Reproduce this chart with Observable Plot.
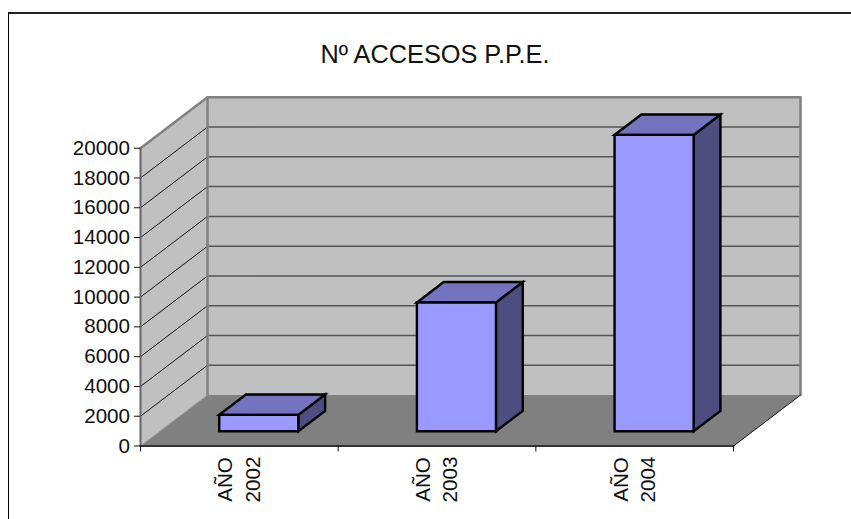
<!DOCTYPE html>
<html>
<head>
<meta charset="utf-8">
<script src="https://cdn.jsdelivr.net/npm/d3@7"></script>
<script src="https://cdn.jsdelivr.net/npm/@observablehq/plot@0.6"></script>
<style>
  html, body { margin: 0; padding: 0; background: #fff; overflow: hidden; }
  #chart { position: relative; width: 851px; height: 519px; }
  #chart svg { display: block; }
  #frame { position: absolute; left: 8px; top: 12px; right: -4px; bottom: -4px;
           border-left: 1.5px solid #000; border-top: 2px solid #222; }
</style>
</head>
<body>
<div id="chart"><div id="frame"></div></div>
<script>
const title = "Nº ACCESOS P.P.E.";
const categories = ["AÑO\n2002", "AÑO\n2003", "AÑO\n2004"];
const accesses = [1100, 8650, 19900];
const valueTicks = [0, 2000, 4000, 6000, 8000, 10000, 12000, 14000, 16000, 18000, 20000];
const categoryEdges = [0, 1, 2, 3];

// Oblique projection: depth z (0 = front, 1 = back) shifts a point along x and y, in data units.
const depthX = 0.339;
const depthY = 3420;
const barWidth = 0.4;
const barFront = 0.29;
const barBack = 0.69;

const P = (x, v, z) => ({x: x + z * depthX, y: v + z * depthY});
const poly = (pts, o) => Plot.line(pts, {x: "x", y: "y", curve: "linear-closed", strokeLinejoin: "miter", strokeMiterlimit: 4, ...o});
const seg = (pts, stroke, strokeWidth) => Plot.line(pts, {x: "x", y: "y", stroke, strokeWidth});

const maxV = 20000, n = categories.length;

const walls = [
  poly([P(0, 0, 1), P(n, 0, 1), P(n, maxV, 1), P(0, maxV, 1)], {fill: "#C0C0C0", stroke: "none"}),
  poly([P(0, 0, 0), P(0, 0, 1), P(0, maxV, 1), P(0, maxV, 0)], {fill: "#C0C0C0", stroke: "none"}),
  poly([P(0, 0, 0), P(n, 0, 0), P(n, 0, 1), P(0, 0, 1)], {fill: "#808080", stroke: "none"})
];

const grid = valueTicks.slice(1, -1).flatMap(v => [
  seg([P(0, v, 0), P(0, v, 1)], "#111", 1),
  seg([P(0, v, 1), P(n, v, 1)], "#555", 1.5)
]);

const edges = [
  seg([P(0, maxV, 0), P(0, maxV, 1), P(n, maxV, 1), P(n, 0, 1)], "#808080", 2.5),
  seg([P(0, maxV, 1), P(0, 0, 1)], "#808080", 2.5),
  seg([P(0, 0, 0), P(0, 0, 1)], "#999", 1),
  seg([P(n, 0, 0), P(n, 0, 1)], "#111", 1),
  seg([P(0, 0, 0), P(0, maxV, 0)], "#666", 2),
  seg([P(0, 0, 0), P(n, 0, 0)], "#333", 2)
];

const bars = accesses.flatMap((v, i) => {
  const a = i + 0.5 - barWidth / 2, b = i + 0.5 + barWidth / 2;
  const style = {stroke: "#000", strokeWidth: 2.4};
  return [
    poly([P(b, 0, barFront), P(b, 0, barBack), P(b, v, barBack), P(b, v, barFront)], {fill: "#4D4D80", ...style}),
    poly([P(a, v, barFront), P(b, v, barFront), P(b, v, barBack), P(a, v, barBack)], {fill: "#7373BF", ...style}),
    poly([P(a, 0, barFront), P(b, 0, barFront), P(b, v, barFront), P(a, v, barFront)], {fill: "#9999FF", ...style})
  ];
});

const plot = Plot.plot({
  width: 851,
  height: 519,
  marginLeft: 140,
  marginRight: 118,
  marginTop: 147.7,
  marginBottom: 73.5,
  style: {fontFamily: "'Liberation Sans', Arial, sans-serif", fontSize: "20.6px", color: "#111", background: "transparent"},
  x: {domain: [0, n], axis: null},
  y: {domain: [0, maxV], axis: null},
  marks: [
    ...walls,
    ...grid,
    ...edges,
    ...bars,
    Plot.axisY({ticks: valueTicks, tickSize: 6, tickPadding: 4.5, tickFormat: d => String(d), label: null, stroke: "#111", fontSize: 20.6}),
    Plot.axisX({ticks: categoryEdges, tickSize: 6, tickFormat: () => "", label: null, stroke: "#111"}),
    Plot.text(categories, {x: (d, i) => i + 0.5, y: () => 0, text: d => d, rotate: -90, dx: -2.2, dy: 33.5, lineHeight: 1.34, fontSize: 20.6, fill: "#111"}),
    Plot.text([title], {frameAnchor: "top", dx: -2, dy: -103.1, fontSize: 25.3, fill: "#111"})
  ]
});
document.getElementById("chart").appendChild(plot);
</script>
</body>
</html>
